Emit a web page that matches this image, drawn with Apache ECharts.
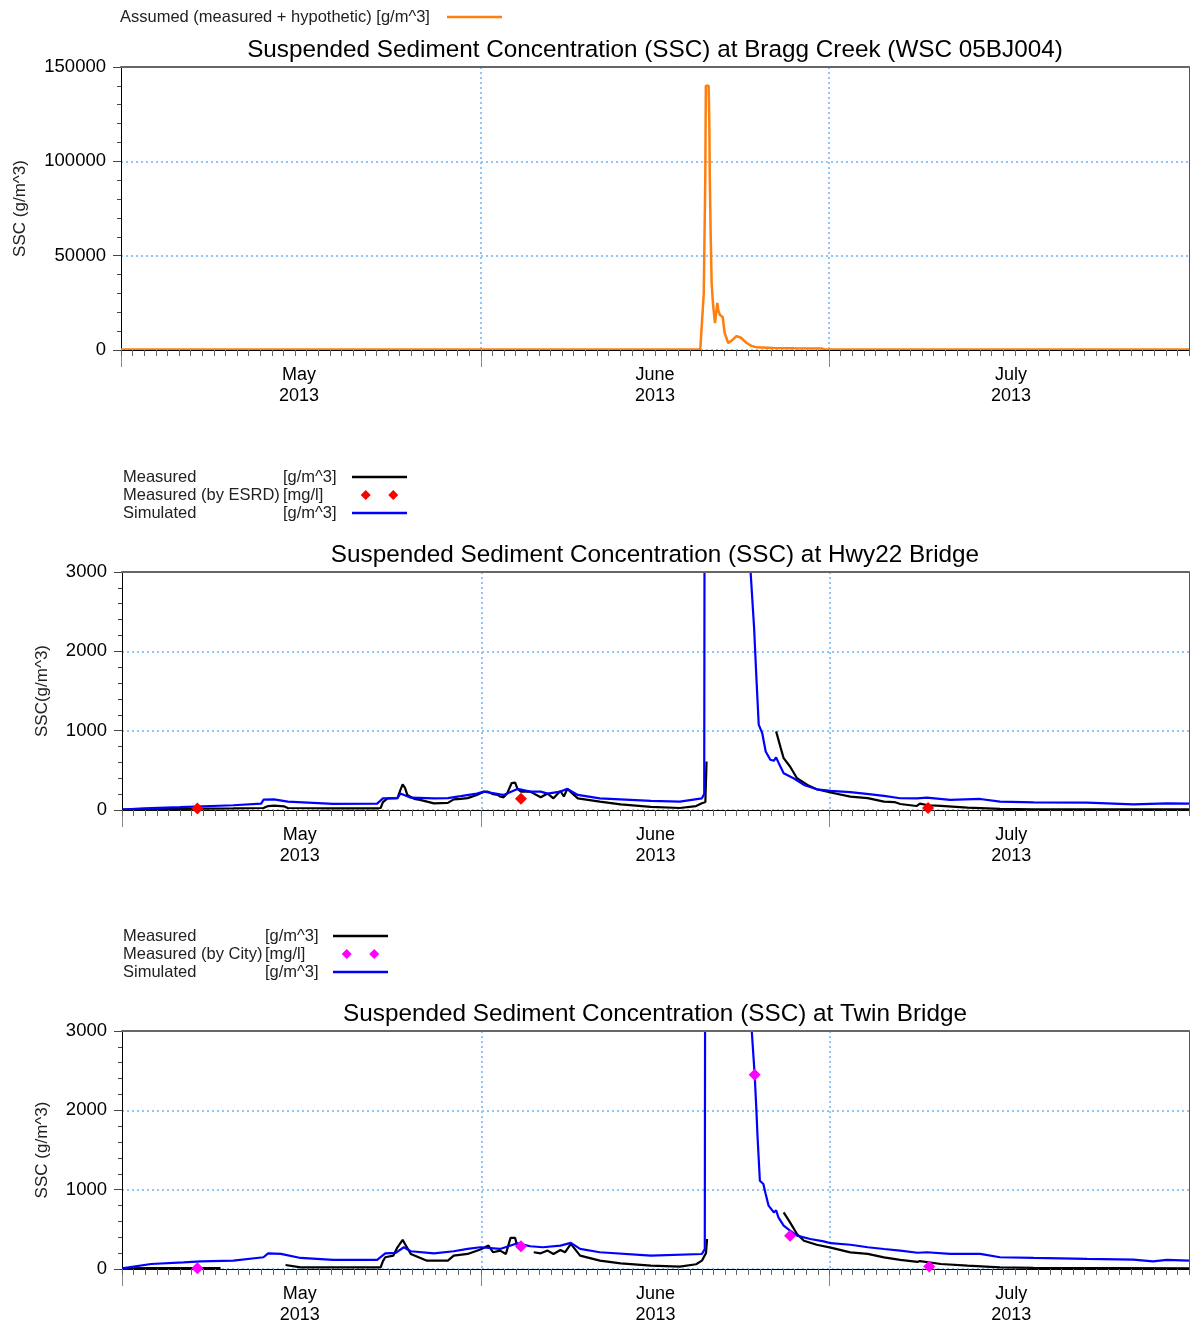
<!DOCTYPE html>
<html>
<head>
<meta charset="utf-8">
<title>SSC 2013</title>
<script src="https://cdn.jsdelivr.net/npm/echarts@6/dist/echarts.min.js"></script>
<style>
  body { margin: 0; background: #fff; }
  #chart { width: 1190px; height: 1326px; }
</style>
</head>
<body>
<div id="chart"></div>
<script>
// x = days after 1 May 2013 00:00
const dayTicks = Array.from({ length: 93 }, (_, i) => i);
const monthStarts = [0, 31, 61];
const monthLabels = ['May\n2013', 'June\n2013', 'July\n2013'];

const braggAssumed = [
  [0, 300], [20, 300], [40, 300], [49.9, 300], [50.02, 600], [50.2, 30000], [50.33, 90000],
  [50.38, 140000], [50.62, 140000], [50.68, 120000], [50.72, 92000], [50.8, 60000], [50.88, 35500],
  [51.0, 24000], [51.17, 14300], [51.25, 13500], [51.37, 25000], [51.45, 21000], [51.6, 18500],
  [51.83, 17500], [52.0, 9000], [52.31, 3700], [52.6, 5000], [53.04, 7400], [53.4, 6500],
  [53.9, 3700], [54.3, 2200], [54.76, 1400], [56.16, 1100], [58, 900], [60.36, 800], [60.6, 300], [92, 300]
];

const hwyMeasured = [
  [0, 5], [1.9, 10], [5, 15], [9.6, 20], [12.2, 25], [12.6, 50], [13.1, 54], [14.0, 45], [14.3, 25],
  [18.2, 20], [22.0, 20], [22.3, 25], [22.5, 100], [22.9, 147], [23.75, 150], [24.0, 250], [24.2, 324],
  [24.4, 280], [24.6, 190], [25.2, 140], [25.7, 127], [26.9, 84], [28.1, 90], [28.6, 134], [29.2, 140],
  [29.8, 150], [30.6, 190], [31.2, 230], [31.5, 232], [32.0, 200], [32.4, 190], [32.6, 170], [32.9, 160],
  [33.2, 207], [33.6, 340], [33.9, 345], [34.1, 266], [34.4, 232], [35.2, 232], [36.1, 160], [36.7, 207],
  [37.2, 147], [37.8, 240], [38.1, 170], [38.4, 266], [39.3, 147], [41.2, 105], [43, 70], [45.6, 40],
  [48.1, 25], [49.5, 50], [50.0, 84], [50.3, 100], [50.4, 611], [50.5, null],
  [56.4, 991], [56.8, 780], [57.05, 653], [57.6, 548], [58.2, 400], [59.1, 316], [59.9, 261], [61.1, 220],
  [62.8, 168], [64.3, 150], [65.7, 105], [66.6, 100], [67.1, 76], [68.5, 50], [68.8, 80], [69.5, 60],
  [70.6, 52], [72.9, 30], [75.7, 13], [78.6, 8], [92, 8]
];
const hwyEsrd = [[6.5, 20], [34.4, 143], [69.5, 25]];
const hwySimulated = [
  [0, 5], [1.9, 20], [5, 35], [9.6, 60], [12.0, 80], [12.2, 130], [13.1, 134], [14.3, 105], [18.2, 76],
  [22.0, 80], [22.5, 147], [23.75, 150], [24.0, 207], [24.9, 155], [26.9, 147], [28.1, 150], [29.2, 174],
  [30.6, 207], [31.2, 232], [32.6, 196], [32.9, 190], [34.1, 266], [35.2, 232], [36.1, 232], [36.7, 207],
  [37.8, 232], [38.4, 266], [39.3, 190], [41.2, 147], [45.6, 114], [48.1, 105], [50.0, 147], [50.2, 200],
  [50.3, 12000], [52, 9000], [53.5, 5000], [54.2, 3000], [54.5, 2300], [54.7, 1666], [54.9, 1076],
  [55.2, 970], [55.5, 738], [55.9, 633], [56.2, 620], [56.4, 662], [56.6, 600], [57.05, 463], [57.9, 400],
  [58.8, 316], [59.9, 261], [61.1, 240], [62.8, 225], [64.2, 203], [65.7, 177], [67.1, 148], [68.55, 147],
  [69.4, 156], [71.4, 127], [74.0, 139], [75.7, 105], [78.6, 97], [83.2, 93], [87.2, 72], [90.1, 84], [92, 80]
];

const twinMeasured = [
  [0, 8], [2.5, 10], [5, 12], [8.5, 12], [8.6, null],
  [14.1, 50], [15.4, 20], [18.2, 20], [22.0, 20], [22.3, 20], [22.5, 100], [22.7, 148], [23.4, 169],
  [23.75, 274], [24.2, 367], [24.4, 316], [24.9, 190], [26.3, 105], [28.1, 105], [28.6, 169], [29.8, 190],
  [30.9, 245], [31.6, 295], [32.0, 211], [32.6, 232], [33.1, 190], [33.5, 392], [33.9, 392], [34.1, 274],
  [34.3, 250], [34.4, null],
  [35.5, 211], [36.1, 198], [36.7, 232], [37.2, 190], [37.8, 240], [38.2, 211], [38.7, 316], [39.5, 169],
  [41.2, 105], [43, 70], [45.6, 42], [48.1, 30], [49.5, 60], [50.0, 105], [50.35, 200], [50.45, 378], [50.5, null],
  [57.05, 714], [57.6, 588], [58.2, 441], [58.8, 357], [59.9, 306], [61.1, 270], [62.8, 210], [64.3, 190],
  [65.7, 147], [67.1, 114], [68.6, 90], [68.8, 100], [70.6, 63], [72.9, 42], [75.7, 21], [78.6, 13], [92, 8]
];
const twinCity = [[6.5, 10], [34.4, 287], [54.55, 2450], [57.6, 420], [69.6, 30]];
const twinSimulated = [
  [0, 8], [2.5, 63], [5.3, 84], [6.8, 97], [9.6, 105], [12.2, 148], [12.6, 198], [13.7, 190], [15.4, 139],
  [18.2, 114], [22.0, 114], [22.7, 198], [23.6, 203], [24.3, 274], [24.9, 224], [26.9, 198], [28.6, 224],
  [29.8, 253], [30.9, 274], [32.6, 253], [34.1, 325], [35.2, 287], [36.3, 274], [37.8, 295], [38.7, 329],
  [39.5, 253], [41.2, 211], [45.6, 168], [50.0, 189], [50.25, 250], [50.35, 12000], [52, 9000], [53.6, 5000],
  [54.3, 3000], [54.55, 2450], [54.7, 2000], [54.8, 1660], [55.0, 1113], [55.3, 1072], [55.5, 946],
  [55.75, 798], [56.2, 714], [56.4, 740], [56.6, 651], [57.05, 546], [57.6, 483], [58.2, 420], [59.35, 378],
  [60.5, 348], [61.1, 325], [62.8, 306], [64.3, 274], [65.7, 252], [67.1, 232], [68.6, 205], [69.4, 211],
  [71.4, 190], [74.0, 190], [75.7, 148], [78.6, 139], [83.2, 127], [87.2, 118], [88.9, 97], [90.1, 114], [92, 105]
];

const units = {
  'Assumed (measured + hypothetic)': '[g/m^3]',
  'Measured': '[g/m^3]',
  'Measured (by ESRD)': '[mg/l]',
  'Measured (by City)': '[mg/l]',
  'Simulated': '[g/m^3]'
};

const FONT = '"Liberation Sans", Arial, sans-serif';
const gridBlue = '#8cc6fa';
const gridDash = { color: gridBlue, width: 2, type: [2, 3] };
const diamondPair = 'path://M0,0M55,14M8.75,7L13.75,2L18.75,7L13.75,12ZM36.25,7L41.25,2L46.25,7L41.25,12Z';
const lineBar = 'path://M0,0M55,14M0,5.8L55,5.8L55,8.2L0,8.2Z';

const panels = [
  {
    title: 'Suspended Sediment Concentration (SSC) at Bragg Creek (WSC 05BJ004)', titleTop: 38,
    left: 121, top: 67, height: 283, yMax: 150000, yStep: 50000, yName: 'SSC (g/m^3)', nameGap: 92,
    legend: { left: 120, top: 8, colA: 322, colB: 0, items: [{ name: 'Assumed (measured + hypothetic)', icon: lineBar }] },
    series: [
      { name: 'Assumed (measured + hypothetic)', type: 'line', data: braggAssumed, color: '#ff7f0e', width: 2.5 }
    ]
  },
  {
    title: 'Suspended Sediment Concentration (SSC) at Hwy22 Bridge', titleTop: 543,
    left: 122, top: 572, height: 238, yMax: 3000, yStep: 1000, yName: 'SSC(g/m^3)', nameGap: 71,
    legend: { left: 123, top: 468, colA: 160, colB: 64, items: [
      { name: 'Measured', icon: lineBar }, { name: 'Measured (by ESRD)', icon: diamondPair }, { name: 'Simulated', icon: lineBar }] },
    series: [
      { name: 'Measured', type: 'line', data: hwyMeasured, color: '#000', width: 2.2 },
      { name: 'Simulated', type: 'line', data: hwySimulated, color: '#0000ff', width: 2.2 },
      { name: 'Measured (by ESRD)', type: 'scatter', data: hwyEsrd, color: '#ff0000' }
    ]
  },
  {
    title: 'Suspended Sediment Concentration (SSC) at Twin Bridge', titleTop: 1002,
    left: 122, top: 1031, height: 238, yMax: 3000, yStep: 1000, yName: 'SSC (g/m^3)', nameGap: 71,
    legend: { left: 123, top: 927, colA: 142, colB: 63, items: [
      { name: 'Measured', icon: lineBar }, { name: 'Measured (by City)', icon: diamondPair }, { name: 'Simulated', icon: lineBar }] },
    series: [
      { name: 'Measured', type: 'line', data: twinMeasured, color: '#000', width: 2.2 },
      { name: 'Simulated', type: 'line', data: twinSimulated, color: '#0000ff', width: 2.2 },
      { name: 'Measured (by City)', type: 'scatter', data: twinCity, color: '#ff00ff' }
    ]
  }
];

const option = {
  animation: false,
  backgroundColor: '#fff',
  textStyle: { fontFamily: FONT },
  title: [], legend: [], grid: [], xAxis: [], yAxis: [], series: []
};

panels.forEach((p, i) => {
  option.grid.push({ left: p.left, top: p.top, width: 1189 - p.left, height: p.height });

  option.title.push({
    text: p.title, left: 655, top: p.titleTop, textAlign: 'center', padding: 0,
    textStyle: { fontSize: 24.3, fontWeight: 'normal', color: '#000', fontFamily: FONT }
  });

  const lg = p.legend;
  const txt = { fontSize: 16.5, fontFamily: FONT, color: '#222', lineHeight: 18, align: 'left' };
  option.legend.push({
    left: lg.left, top: lg.top, orient: 'vertical', align: 'right', padding: 0, itemGap: 0,
    itemWidth: 55, itemHeight: 14, selectedMode: false,
    data: lg.items,
    formatter: name => lg.colB ? `{a|${name}}{b|${units[name]}}` : `{a|${name} ${units[name]}}`,
    textStyle: {
      fontSize: 16.5, fontFamily: FONT, color: '#222', lineHeight: 18,
      rich: { a: Object.assign({ width: lg.colA }, txt), b: Object.assign({ width: lg.colB }, txt) }
    }
  });

  const xBase = option.xAxis.length;
  // daily ticks, the series sit on this one
  option.xAxis.push({
    gridIndex: i, type: 'value', position: 'bottom', min: 0, max: 92, interval: 1, z: 4,
    axisLine: { onZero: false, lineStyle: { color: '#000', width: 1 } },
    axisTick: { length: 6, lineStyle: { color: '#666' } },
    axisLabel: { show: false }, splitLine: { show: false }
  });
  // month boundaries: long ticks and dotted grid lines
  option.xAxis.push({
    gridIndex: i, type: 'category', position: 'bottom', data: dayTicks, boundaryGap: false,
    axisLine: { show: false, onZero: false },
    axisTick: { length: 17, interval: idx => monthStarts.includes(idx), lineStyle: { color: '#888' } },
    axisLabel: { show: false },
    splitLine: { show: true, interval: idx => idx > 0 && monthStarts.includes(idx), lineStyle: gridDash }
  });
  // month names centred in each month
  option.xAxis.push({
    gridIndex: i, type: 'category', position: 'bottom', data: monthLabels, boundaryGap: true,
    axisLine: { show: false, onZero: false }, axisTick: { show: false }, splitLine: { show: false },
    axisLabel: { interval: 0, margin: 15, fontSize: 18, lineHeight: 21, color: '#000', fontFamily: FONT }
  });
  // top border
  option.xAxis.push({
    gridIndex: i, type: 'value', position: 'top', min: 0, max: 92, z: 5,
    axisLine: { onZero: false, lineStyle: { color: '#666', width: 2 } },
    axisTick: { show: false }, axisLabel: { show: false }, splitLine: { show: false }
  });

  const yBase = option.yAxis.length;
  option.yAxis.push({
    gridIndex: i, type: 'value', min: 0, max: p.yMax, interval: p.yStep,
    name: p.yName, nameLocation: 'middle', nameGap: p.nameGap,
    nameTextStyle: { fontSize: 17, color: '#222', fontFamily: FONT },
    axisLine: { show: true, onZero: false, lineStyle: { color: '#000' } },
    axisTick: { show: true, length: 8, lineStyle: { color: '#444' } },
    minorTick: { show: true, splitNumber: 5, length: 4, lineStyle: { color: '#444' } },
    axisLabel: { fontSize: 18.5, color: '#000', margin: 15, fontFamily: FONT, formatter: v => String(v) },
    splitLine: { show: true, lineStyle: gridDash }
  });
  // right border
  option.yAxis.push({
    gridIndex: i, type: 'value', position: 'right', min: 0, max: p.yMax, z: 5,
    axisLine: { show: true, onZero: false, lineStyle: { color: '#555' } },
    axisTick: { show: false }, axisLabel: { show: false }, splitLine: { show: false }
  });

  p.series.forEach(s => {
    if (s.type === 'line') {
      option.series.push({
        name: s.name, type: 'line', data: s.data, xAxisIndex: xBase, yAxisIndex: yBase,
        symbol: 'none', showSymbol: false, connectNulls: false, clip: true, z: 3,
        lineStyle: { color: s.color, width: s.width }, itemStyle: { color: s.color }
      });
    } else {
      option.series.push({
        name: s.name, type: 'scatter', data: s.data, xAxisIndex: xBase, yAxisIndex: yBase,
        symbol: 'diamond', symbolSize: 12, z: 6, itemStyle: { color: s.color, opacity: 1 }
      });
    }
  });
});

const myChart = echarts.init(document.getElementById('chart'));
myChart.setOption(option);
window.onresize = myChart.resize;
</script>
</body>
</html>
